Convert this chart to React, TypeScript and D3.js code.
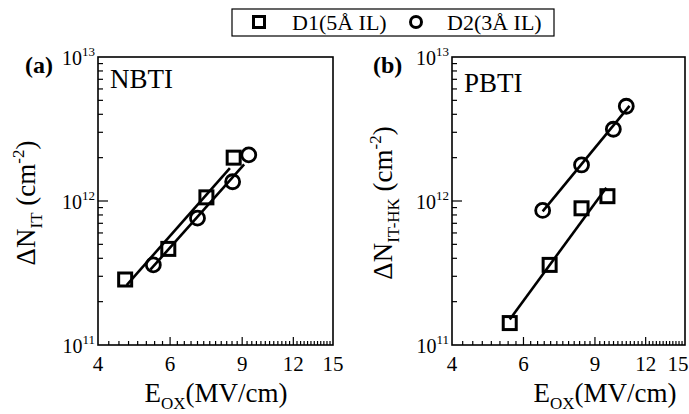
import React from "react";
import * as d3 from "d3";

const xTickValues = [4, 6, 9, 12, 15];
const yTickExps = [11, 12, 13];

const nbtiD1X = [4.66, 5.94, 7.36, 8.58];
const nbtiD1Y = [2.85e11, 4.65e11, 1.06e12, 2.0e12];
const nbtiD2X = [5.46, 7.0, 8.53, 9.34];
const nbtiD2Y = [3.6e11, 7.6e11, 1.36e12, 2.09e12];

const pbtiD1X = [5.55, 6.96, 8.34, 9.66];
const pbtiD1Y = [1.42e11, 3.6e11, 8.9e11, 1.08e12];
const pbtiD2X = [6.69, 8.34, 9.99, 10.75];
const pbtiD2Y = [8.6e11, 1.78e12, 3.15e12, 4.55e12];

const nbtiFitRange = [[4.7, 8.4], [5.37, 9.1]];
const pbtiFitRange = [[5.55, 9.6], [6.69, 10.95]];

function fit(xs: number[], ys: number[]) {
  const lx = xs.map(Math.log10);
  const ly = ys.map(Math.log10);
  const mx = d3.mean(lx)!;
  const my = d3.mean(ly)!;
  let num = 0, den = 0;
  lx.forEach((v, i) => { num += (v - mx) * (ly[i] - my); den += (v - mx) ** 2; });
  const b = num / den;
  const a = my - b * mx;
  return (x: number) => Math.pow(10, a + b * Math.log10(x));
}

type PanelProps = {
  x0: number;
  W: number;
  series: { xs: number[]; ys: number[]; shape: "sq" | "ci"; range: number[] }[];
  tag: string;
  tagX: number;
  label: string;
  labelY: number;
  yTitleSub: string;
  yTitleX: number;
  xTitleX: number;
};

function Panel({ x0, W, series, tag, tagX, label, labelY, yTitleSub, yTitleX, xTitleX }: PanelProps) {
  const top = 57, bottom = 345;
  const x = d3.scaleLog().domain([4, 15]).range([x0, x0 + W]);
  const y = d3.scaleLog().domain([1e11, 1e13]).range([bottom, top]);
  const minorX: number[] = [];
  for (let i = 17; i < 60; i++) minorX.push(i / 4);
  const minorY: number[] = [];
  for (let e = 11; e < 13; e++) for (let m = 2; m <= 9; m++) minorY.push(m * Math.pow(10, e));
  const line = d3.line<[number, number]>().x(d => x(d[0])).y(d => y(d[1]));
  return (
    <g>
      {minorX.map((v, i) => {
        const major = xTickValues.includes(v);
        return <line key={"mx" + i} x1={x(v)} x2={x(v)} y1={bottom} y2={bottom - (major ? 8 : 4)} stroke="#000" strokeWidth={1.2} />;
      })}
      {minorY.map((v, i) => (
        <line key={"my" + i} x1={x0} x2={x0 + 5} y1={y(v)} y2={y(v)} stroke="#000" strokeWidth={1.2} />
      ))}
      <line x1={x0} x2={x0 + 10} y1={y(1e12)} y2={y(1e12)} stroke="#000" strokeWidth={1.2} />
      <rect x={x0} y={top} width={W} height={bottom - top} fill="none" stroke="#000" strokeWidth={1.6} />
      {xTickValues.map(v => (
        <text key={"xt" + v} x={Math.min(x(v), 678)} y={371} textAnchor="middle" fontSize={21}>{v}</text>
      ))}
      {yTickExps.map(e => (
        <text key={"yt" + e} x={x0 - 3} y={y(Math.pow(10, e)) + 8} textAnchor="end" fontSize={20}>
          10<tspan fontSize={13} dy={-9}>{e}</tspan>
        </text>
      ))}
      <text x={tagX} y={73} fontSize={24} fontWeight="bold">{tag}</text>
      <text x={x0 + 12} y={labelY} fontSize={27}>{label}</text>
      <text transform={`translate(${yTitleX},${(top + bottom) / 2 + 2}) rotate(-90)`} textAnchor="middle" fontSize={27}>
        ΔN<tspan fontSize={17} dy={7}>{yTitleSub}</tspan><tspan dy={-7}> (cm</tspan><tspan fontSize={17} dy={-11}>-2</tspan><tspan dy={11}>)</tspan>
      </text>
      <text x={xTitleX} y={402} textAnchor="middle" fontSize={27}>
        E<tspan fontSize={17} dy={7}>OX</tspan><tspan dy={-7}>(MV/cm)</tspan>
      </text>
      {series.map((s, si) => {
        const f = fit(s.xs, s.ys);
        const pts: [number, number][] = [[s.range[0], f(s.range[0])], [s.range[1], f(s.range[1])]];
        return (
          <g key={"s" + si}>
            {s.xs.map((v, i) =>
              s.shape === "sq" ? (
                <rect key={i} x={x(v) - 6.5} y={y(s.ys[i]) - 6.5} width={13} height={13} fill="none" stroke="#000" strokeWidth={3} />
              ) : (
                <circle key={i} cx={x(v)} cy={y(s.ys[i])} r={7} fill="none" stroke="#000" strokeWidth={2.8} />
              )
            )}
            <path d={line(pts)!} fill="none" stroke="#000" strokeWidth={2.6} />
          </g>
        );
      })}
    </g>
  );
}

export default function App() {
  return (
    <svg width={689} height={414} fontFamily="Liberation Serif" style={{ position: "absolute", left: 0, top: 0, background: "#fff" }}>
      <style>{"text, tspan { font-family: 'Liberation Serif'; }"}</style>
      <rect x={232} y={9} width={322} height={27} fill="#fff" stroke="#000" strokeWidth={1.2} />
      <rect x={253.5} y={16.5} width={11} height={11} fill="none" stroke="#000" strokeWidth={3} />
      <text x={292} y={30} fontSize={22}>D1(5Å IL)</text>
      <circle cx={416} cy={22} r={5.5} fill="none" stroke="#000" strokeWidth={3} />
      <text x={447} y={30} fontSize={22}>D2(3Å IL)</text>
      <Panel
        x0={98}
        W={235}
        series={[
          { xs: nbtiD1X, ys: nbtiD1Y, shape: "sq", range: nbtiFitRange[0] },
          { xs: nbtiD2X, ys: nbtiD2Y, shape: "ci", range: nbtiFitRange[1] },
        ]}
        tag="(a)"
        tagX={25}
        label="NBTI"
        labelY={88}
        yTitleSub="IT"
        yTitleX={35}
        xTitleX={216}
      />
      <Panel
        x0={452}
        W={233}
        series={[
          { xs: pbtiD1X, ys: pbtiD1Y, shape: "sq", range: pbtiFitRange[0] },
          { xs: pbtiD2X, ys: pbtiD2Y, shape: "ci", range: pbtiFitRange[1] },
        ]}
        tag="(b)"
        tagX={373}
        label="PBTI"
        labelY={92}
        yTitleSub="IT-HK"
        yTitleX={392}
        xTitleX={605}
      />
    </svg>
  );
}
